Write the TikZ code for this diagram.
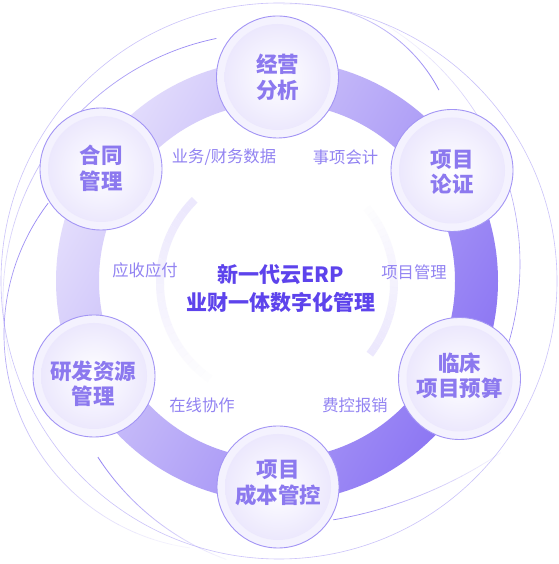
\documentclass[tikz,border=0pt]{standalone}
\usepackage{fontspec}
\setmainfont{Noto Sans CJK SC}
\definecolor{nodetxt}{HTML}{8C79EF}
\definecolor{labtxt}{HTML}{9283F2}
\definecolor{ctrtxt}{HTML}{5D43EC}
\definecolor{bord}{HTML}{A395F5}
\definecolor{ringL}{HTML}{E4DEFC}
\definecolor{ringD}{HTML}{8C76F3}
\definecolor{thinL}{HTML}{CBC3FA}
\definecolor{thinD}{HTML}{9585F4}
\definecolor{faint}{HTML}{ECE8FD}
\definecolor{discO}{HTML}{F4F2FE}
\definecolor{discI}{HTML}{ECE8FD}
% fading arc: cx, cy, r, opaque angle, faded angle, colour, width
\newcommand{\fadearc}[7]{%
  \foreach \k in {0,...,23}{%
    \pgfmathsetmacro{\aA}{#4+(#5-#4)*\k/24}%
    \pgfmathsetmacro{\aB}{#4+(#5-#4)*(\k+1)/24}%
    \pgfmathsetmacro{\op}{1-0.92*\k/23}%
    \draw[draw=#6, line width=#7, draw opacity=\op]
      ({#1+#3*cos(\aA)},{#2+#3*sin(\aA)}) arc[start angle=\aA, end angle=\aB, radius=#3];
  }}
\begin{document}
\begin{tikzpicture}[x=1pt,y=1pt,
  disc/.style={circle, minimum size=122pt, inner sep=0pt, fill=discO, draw=bord, line width=0.9pt},
  nodetext/.style={align=center, text=nodetxt, font=\fontsize{21.5}{25.5}\selectfont\bfseries, inner sep=0pt},
  labeltext/.style={text=labtxt, font=\fontsize{16.3}{18}\selectfont, inner sep=0pt},
  coretext/.style={align=center, text=ctrtxt, font=\fontsize{21}{28}\selectfont\bfseries, inner sep=0pt},
  thinline/.style={draw=thinL, line width=0.6pt}]
\useasboundingbox (0,0) rectangle (558,564);
\fill[white] (0,0) rectangle (558,564);

% decorative thin lines
\draw[thinline] (279,283) circle (278);
\fadearc{270}{264}{267}{101.6}{195}{thinD}{0.7pt}
\fadearc{220}{230}{216}{142.7}{262}{thinD}{0.7pt}
\fadearc{314.5}{247}{258}{212.9}{250}{thinD}{0.8pt}
\fadearc{297}{400}{160}{27.5}{95}{thinD}{0.8pt}
\fadearc{261}{467}{429}{-80.3}{-56}{thinD}{0.7pt}
\fadearc{240}{300}{280}{-16.2}{60}{thinD}{0.6pt}

% faint inner arcs
\fadearc{277}{281}{117}{134.7}{235}{faint}{8pt}
\fadearc{277}{281}{117}{-37.5}{40}{faint}{8pt}

% main ring
\shade[even odd rule, top color=ringL, bottom color=ringD, shading angle=60]
  (277,283) circle (221) (277,283) circle (178);

% node discs
\node[disc] (d1) at (277.5,487) {};
\node[disc] (d2) at (452,393.5) {};
\node[disc] (d3) at (459.5,185.5) {};
\node[disc] (d4) at (278,77) {};
\node[disc] (d5) at (94,188) {};
\node[disc] (d6) at (101,395) {};
\foreach \d in {d1,d2,d3,d4,d5,d6}{
  \shade[inner color=white, outer color=discI] (\d.center) circle (53);
}

% node texts
\node[nodetext] (t1) at (277.5,486.5) {经营\\分析};
\node[nodetext] (t2) at (452,392) {项目\\论证};
\node[nodetext] (t3) at (459.5,188) {临床\\项目预算};
\node[nodetext] (t4) at (278,81) {项目\\成本管控};
\node[nodetext] (t5) at (93,180) {研发资源\\管理};
\node[nodetext] (t6) at (101,395.5) {合同\\管理};

% labels
\node[labeltext] (l1) at (224,407) {业务/财务数据};
\node[labeltext] (l2) at (345.5,407) {事项会计};
\node[labeltext] (l3) at (145,294) {应收应付};
\node[labeltext] (l4) at (414,292) {项目管理};
\node[labeltext] (l5) at (202,158.5) {在线协作};
\node[labeltext] (l6) at (355,158.5) {费控报销};

% centre
\node[coretext] (core) at (281,275.5) {新一代云ERP\\业财一体数字化管理};
\end{tikzpicture}
\end{document}
